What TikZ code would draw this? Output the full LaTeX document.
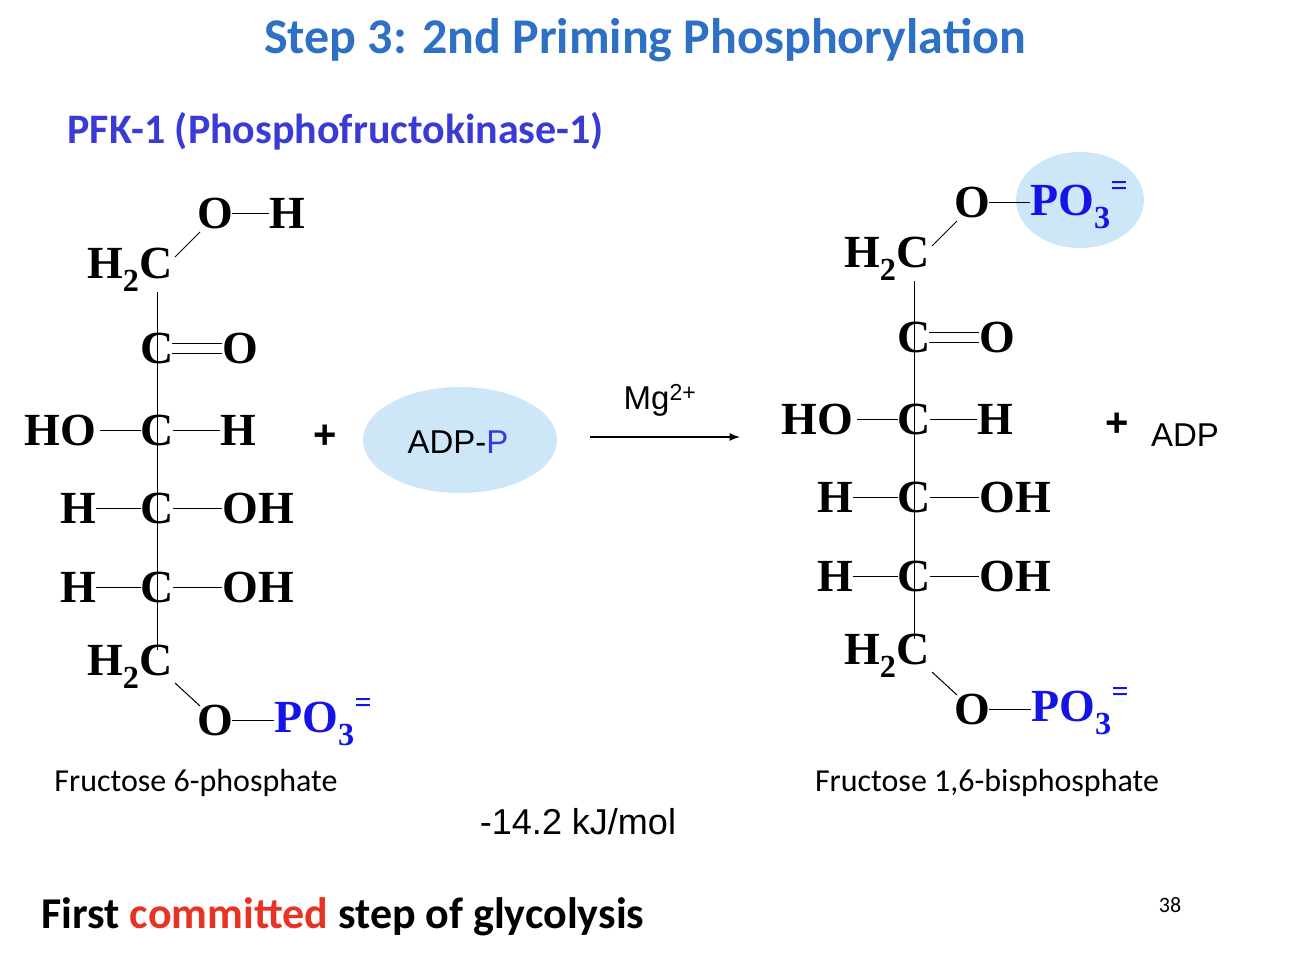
\documentclass[tikz,border=0pt]{standalone}
\usepackage{fontspec}
\setmainfont{Liberation Serif}
\newfontfamily\calfnt{Carlito}
\newfontfamily\arifnt{Liberation Sans}
\definecolor{ttl}{RGB}{46,112,196}
\definecolor{pfk}{RGB}{58,58,215}
\definecolor{pblue}{RGB}{20,20,230}
\definecolor{bub}{RGB}{205,230,248}
\definecolor{cred}{RGB}{232,50,35}
\tikzset{
 atm/.style={inner sep=0pt,font=\fontsize{46}{46}\selectfont\bfseries},
 bond/.style={line width=1pt},
 lbl/.style={inner sep=0pt,font=\calfnt\fontsize{32}{32}\selectfont},
}
\newcommand{\pothree}{\textcolor{pblue}{PO$_{\mathbf 3}$}\raisebox{0.45em}{\fontsize{30}{30}\selectfont\textcolor{pblue}{=}}}
\begin{document}
\begin{tikzpicture}[x=1pt,y=-1pt]
\useasboundingbox (0,0) rectangle (1292,960);
\node[font=\calfnt\fontsize{50}{50}\selectfont\bfseries,text=ttl] (title) at (645,40) {Step 3: 2nd Priming Phosphorylation};
\node[font=\calfnt\fontsize{42}{42}\selectfont\bfseries,text=pfk,anchor=west] (pfk) at (64,131) {PFK-1 (Phosphofructokinase-1)};
\foreach \dx/\dy/\p in {0/0/L,757/-11/R}{
\begin{scope}[shift={(\dx,\dy)},name prefix=\p]
\draw[bond] (157,292) -- (157,650);
\node[atm] (c1) at (130,270) {H$_{\mathbf 2}$C};
\node[atm] (c2) at (157,348) {C};
\node[atm] (o2) at (240,348) {O};
\node[atm] (ho3) at (60,430) {HO};
\node[atm] (c3) at (157,430) {C};
\node[atm] (h3) at (238,430) {H};
\node[atm] (h4) at (78,508) {H};
\node[atm] (c4) at (157,508) {C};
\node[atm] (oh4) at (258,508) {OH};
\node[atm] (h5) at (78,587) {H};
\node[atm] (c5) at (157,587) {C};
\node[atm] (oh5) at (258,587) {OH};
\node[atm] (c6) at (130,667) {H$_{\mathbf 2}$C};
\node[atm] (o6) at (215,720) {O};
\node[atm,anchor=west] (p6) at (274,722) {\pothree};
\draw[bond] (172,343) -- (222,343) (172,353) -- (222,353);
\draw[bond] (100,430) -- (141,430) (173,430) -- (h3.west);
\draw[bond] (96,508) -- (141,508) (173,508) -- (oh4.west);
\draw[bond] (96,587) -- (141,587) (173,587) -- (oh5.west);
\draw[bond] (175,683) -- (200,706);
\draw[bond] (232,720) -- (274,720);
\draw[bond] (175,257) -- (200,232);
\node[atm] (o1) at (215,213) {O};
\end{scope}}
\node[atm] (Lh1) at (287,213) {H};
\draw[bond] (232,213) -- (Lh1.west);
\fill[bub] (1080,200) ellipse (64 and 48);
\node[atm,anchor=west] (Rp1) at (1030,205) {\pothree};
\draw[bond] (989,202) -- (1030,202);
\node[font=\arifnt\fontsize{40}{40}\selectfont\bfseries] (plus1) at (325,437) {+};
\fill[bub] (460,440) ellipse (97 and 53);
\node[font=\arifnt\fontsize{33}{33}\selectfont] (adpp) at (458,442) {ADP-\textcolor{pfk}{P}};
\coordinate (a1) at (590,437); \coordinate (a2) at (740,437);
\draw[line width=2.5pt,-latex] (a1) -- (a2);
\node[font=\arifnt\fontsize{33}{33}\selectfont] (mg) at (660,400) {Mg\textsuperscript{2+}};
\node[font=\arifnt\fontsize{40}{40}\selectfont\bfseries] (plus2) at (1117,425) {+};
\node[font=\arifnt\fontsize{33}{33}\selectfont] (adp) at (1185,435) {ADP};
\node[lbl] (f6p) at (196,783) {Fructose 6-phosphate};
\node[lbl] (f16) at (987,783) {Fructose 1,6-bisphosphate};
\node[font=\arifnt\fontsize{36}{36}\selectfont] (dg) at (578,822) {-14.2 kJ/mol};
\node[font=\calfnt\fontsize{44}{44}\selectfont\bfseries,anchor=west] (first) at (38,917) {First \textcolor{cred}{committed} step of glycolysis};
\node[font=\calfnt\fontsize{22}{22}\selectfont] (num) at (1170,905) {38};
\end{tikzpicture}
\end{document}
